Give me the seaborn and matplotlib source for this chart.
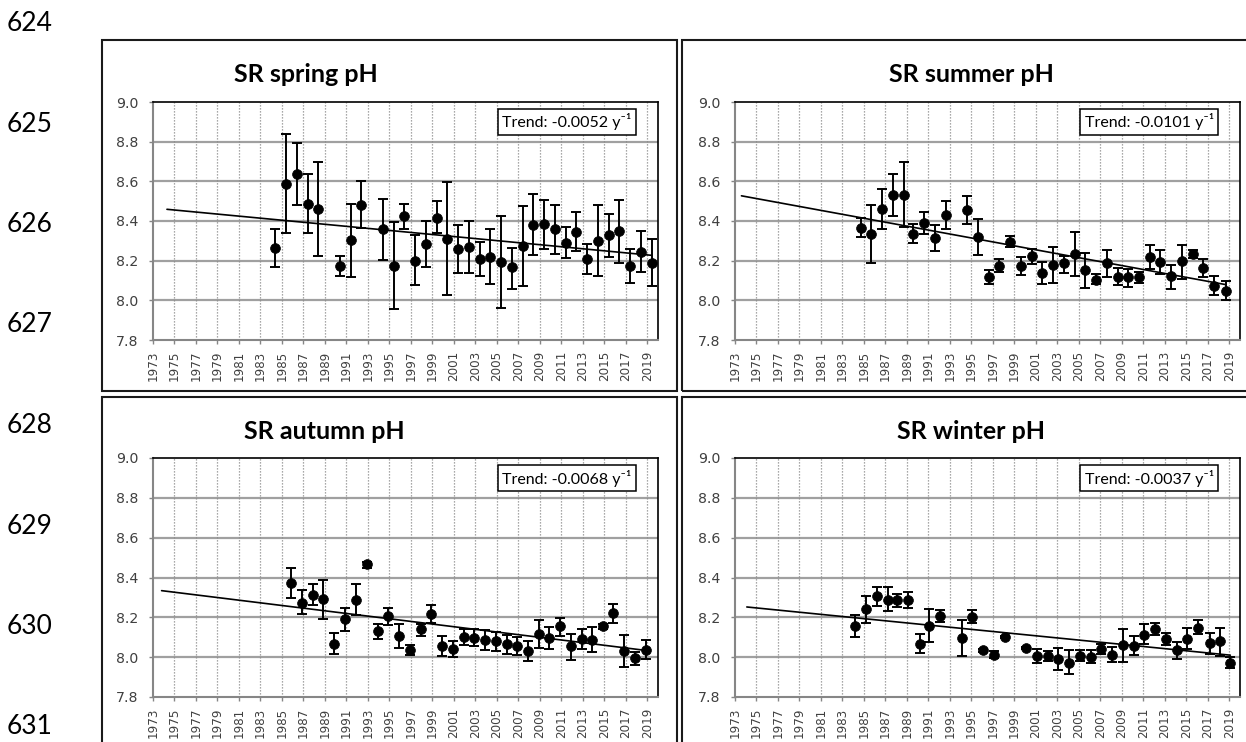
import numpy as np
import matplotlib
matplotlib.use("Agg")
import matplotlib.pyplot as plt
from matplotlib.patches import Rectangle
import seaborn as sns

# ---------------- data ----------------
years_spring = [1984.4, 1985.4, 1986.4, 1987.4, 1988.4, 1990.4, 1991.4, 1992.4, 1994.4, 1995.4,
                1996.4, 1997.4, 1998.4, 1999.4, 2000.4, 2001.4, 2002.4, 2003.4, 2004.4, 2005.4,
                2006.4, 2007.4, 2008.4, 2009.4, 2010.4, 2011.4, 2012.4, 2013.4, 2014.4, 2015.4,
                2016.4, 2017.4, 2018.4, 2019.4]
ph_spring = [8.266, 8.588, 8.639, 8.487, 8.459, 8.173, 8.303, 8.482, 8.358, 8.173,
             8.425, 8.200, 8.286, 8.417, 8.311, 8.259, 8.269, 8.208, 8.218, 8.195,
             8.166, 8.272, 8.382, 8.387, 8.360, 8.289, 8.345, 8.210, 8.299, 8.331,
             8.350, 8.175, 8.245, 8.190]
hi_spring = [8.361, 8.840, 8.795, 8.639, 8.697, 8.222, 8.484, 8.603, 8.513, 8.393,
             8.487, 8.328, 8.400, 8.503, 8.598, 8.382, 8.400, 8.296, 8.360, 8.425,
             8.266, 8.474, 8.534, 8.504, 8.479, 8.368, 8.445, 8.284, 8.481, 8.437,
             8.504, 8.257, 8.351, 8.308]
lo_spring = [8.168, 8.340, 8.482, 8.341, 8.225, 8.124, 8.119, 8.366, 8.205, 7.958,
             8.360, 8.077, 8.168, 8.341, 8.025, 8.138, 8.136, 8.124, 8.082, 7.963,
             8.059, 8.074, 8.230, 8.261, 8.235, 8.212, 8.249, 8.131, 8.123, 8.218,
             8.188, 8.086, 8.145, 8.071]
trend_x_spring = [1974.3, 2019.4]
trend_y_spring = [8.459, 8.227]

years_summer = [1984.7, 1985.7, 1986.7, 1987.7, 1988.7, 1989.6, 1990.6, 1991.6, 1992.6, 1994.6,
                1995.6, 1996.6, 1997.6, 1998.6, 1999.6, 2000.6, 2001.6, 2002.6, 2003.6, 2004.6,
                2005.6, 2006.6, 2007.6, 2008.6, 2009.6, 2010.6, 2011.6, 2012.6, 2013.6, 2014.6,
                2015.6, 2016.6, 2017.6, 2018.7]
ph_summer = [8.363, 8.336, 8.459, 8.529, 8.529, 8.333, 8.389, 8.313, 8.431, 8.456,
             8.321, 8.120, 8.172, 8.292, 8.172, 8.223, 8.139, 8.177, 8.186, 8.233,
             8.155, 8.105, 8.186, 8.120, 8.120, 8.120, 8.220, 8.194, 8.122, 8.199,
             8.233, 8.162, 8.073, 8.047]
hi_summer = [8.414, 8.483, 8.561, 8.635, 8.698, 8.383, 8.443, 8.378, 8.502, 8.527,
             8.409, 8.155, 8.209, 8.323, 8.216, 8.257, 8.191, 8.267, 8.225, 8.346,
             8.240, 8.132, 8.255, 8.164, 8.160, 8.145, 8.279, 8.252, 8.177, 8.279,
             8.255, 8.208, 8.125, 8.096]
lo_summer = [8.321, 8.189, 8.358, 8.427, 8.368, 8.287, 8.334, 8.248, 8.360, 8.383,
             8.228, 8.083, 8.142, 8.267, 8.127, 8.182, 8.083, 8.086, 8.140, 8.122,
             8.062, 8.084, 8.117, 8.079, 8.068, 8.086, 8.157, 8.135, 8.059, 8.110,
             8.215, 8.118, 8.025, 8.003]
trend_x_summer = [1973.6, 2018.7]
trend_y_summer = [8.527, 8.079]

years_autumn = [1985.85, 1986.85, 1987.85, 1988.85, 1989.85, 1990.9, 1991.9, 1992.9, 1993.9, 1994.9,
                1995.9, 1996.9, 1997.9, 1998.9, 1999.9, 2000.9, 2001.9, 2002.9, 2003.9, 2004.9,
                2005.9, 2006.9, 2007.9, 2008.9, 2009.9, 2010.9, 2011.9, 2012.9, 2013.9, 2014.9,
                2015.85, 2016.85, 2017.85, 2018.85]
ph_autumn = [8.370, 8.274, 8.314, 8.291, 8.067, 8.192, 8.286, 8.466, 8.131, 8.205,
             8.104, 8.034, 8.139, 8.215, 8.057, 8.042, 8.101, 8.096, 8.087, 8.079,
             8.064, 8.055, 8.029, 8.118, 8.096, 8.155, 8.054, 8.091, 8.087, 8.155,
             8.222, 8.029, 7.997, 8.037]
hi_autumn = [8.447, 8.336, 8.365, 8.387, 8.121, 8.247, 8.365, 8.479, 8.168, 8.247,
             8.168, 8.059, 8.168, 8.261, 8.104, 8.081, 8.139, 8.143, 8.134, 8.128,
             8.109, 8.101, 8.081, 8.188, 8.151, 8.198, 8.118, 8.141, 8.151, 8.165,
             8.269, 8.109, 8.025, 8.087]
lo_autumn = [8.296, 8.215, 8.264, 8.193, 8.018, 8.133, 8.210, 8.450, 8.092, 8.160,
             8.044, 8.012, 8.106, 8.171, 8.008, 8.003, 8.062, 8.057, 8.037, 8.029,
             8.017, 8.012, 7.983, 8.045, 8.039, 8.104, 7.987, 8.040, 8.025, 8.143,
             8.173, 7.953, 7.960, 7.990]
trend_x_autumn = [1973.8, 2018.85]
trend_y_autumn = [8.334, 8.034]

years_winter = [1984.2, 1985.2, 1986.2, 1987.2, 1988.1, 1989.1, 1990.2, 1991.1, 1992.1, 1994.1,
                1995.1, 1996.1, 1997.1, 1998.1, 2000.1, 2001.1, 2002.1, 2003.1, 2004.1, 2005.1,
                2006.1, 2007.1, 2008.1, 2009.1, 2010.1, 2011.1, 2012.1, 2013.1, 2014.1, 2015.1,
                2016.1, 2017.2, 2018.1, 2019.1]
ph_winter = [8.155, 8.240, 8.308, 8.289, 8.286, 8.286, 8.064, 8.156, 8.207, 8.096,
             8.202, 8.034, 8.013, 8.101, 8.047, 8.005, 8.005, 7.990, 7.970, 8.008,
             8.003, 8.042, 8.013, 8.059, 8.055, 8.113, 8.139, 8.092, 8.034, 8.092,
             8.146, 8.070, 8.081, 7.971]
hi_winter = [8.210, 8.308, 8.353, 8.350, 8.319, 8.329, 8.114, 8.242, 8.239, 8.185,
             8.239, 8.040, 8.029, 8.108, 8.053, 8.042, 8.030, 8.045, 8.034, 8.037,
             8.034, 8.064, 8.050, 8.143, 8.106, 8.165, 8.171, 8.123, 8.076, 8.146,
             8.185, 8.123, 8.146, 8.000]
lo_winter = [8.101, 8.171, 8.255, 8.230, 8.252, 8.247, 8.020, 8.076, 8.176, 8.008,
             8.171, 8.028, 7.997, 8.094, 8.041, 7.971, 7.980, 7.938, 7.916, 7.980,
             7.973, 8.017, 7.978, 7.978, 8.010, 8.064, 8.109, 8.062, 7.993, 8.042,
             8.114, 8.017, 8.005, 7.945]
trend_x_winter = [1974.1, 2019.1]
trend_y_winter = [8.252, 8.010]

titles = ["SR spring pH", "SR summer pH", "SR autumn pH", "SR winter pH"]
trend_labels = ["Trend: -0.0052 y\u207b\u00b9", "Trend: -0.0101 y\u207b\u00b9",
                "Trend: -0.0068 y\u207b\u00b9", "Trend: -0.0037 y\u207b\u00b9"]
year_ticks = list(range(1973, 2020, 2))
ph_ticks = [7.8, 8.0, 8.2, 8.4, 8.6, 8.8, 9.0]
line_numbers = ["624", "625", "626", "627", "628", "629", "630", "631"]

# ---------------- figure ----------------
sns.set_theme(style="white")
plt.rcParams["font.family"] = ["DejaVu Sans"]

W, H = 1246, 742
fig = plt.figure(figsize=(W / 100, H / 100), dpi=100)
fig.patch.set_facecolor("white")


def fx(px):
    return px / W


def fy(py):
    return 1 - py / H


# panel frames (pixel boxes: left, top, right, bottom)
frames = [(102, 40, 677, 391), (682, 40, 1252, 391), (102, 397, 677, 750), (682, 397, 1252, 750)]
for (l, t, r, b) in frames:
    fig.patches.append(Rectangle((fx(l), fy(b)), fx(r - l), (b - t) / H, transform=fig.transFigure,
                                 fill=False, edgecolor="#1a1a1a", linewidth=1.5, zorder=0))

# axes rectangles (pixel): left, top, right, bottom
axes_px = [(153, 102, 658, 340), (735, 102, 1240, 340), (153, 458, 658, 697), (735, 458, 1240, 697)]
title_pos = [(306, 82), (971, 82), (324, 439), (971, 439)]

series = [
    (years_spring, ph_spring, hi_spring, lo_spring, trend_x_spring, trend_y_spring),
    (years_summer, ph_summer, hi_summer, lo_summer, trend_x_summer, trend_y_summer),
    (years_autumn, ph_autumn, hi_autumn, lo_autumn, trend_x_autumn, trend_y_autumn),
    (years_winter, ph_winter, hi_winter, lo_winter, trend_x_winter, trend_y_winter),
]

for i, (yrs, ph, hi, lo, tx, ty) in enumerate(series):
    l, t, r, b = axes_px[i]
    ax = fig.add_axes([fx(l), fy(b), fx(r - l), (b - t) / H])
    ax.set_facecolor("white")
    yrs = np.array(yrs)
    ph = np.array(ph)
    hi = np.array(hi)
    lo = np.array(lo)

    ax.set_xlim(1973, 2020)
    ax.set_ylim(7.8, 9.0)

    # gridlines
    for v in ph_ticks[1:-1]:
        ax.axhline(v, color="#a0a0a0", lw=1.6, zorder=1)
    for yv in year_ticks[1:]:
        ax.axvline(yv, color="#8c8c8c", lw=0.9, ls=(0, (1, 1.4)), zorder=1)

    # error bars
    ax.errorbar(yrs, ph, yerr=[ph - lo, hi - ph], fmt="none", ecolor="black",
                elinewidth=1.4, capsize=3.4, capthick=1.4, zorder=3)
    # trend line
    sns.lineplot(x=tx, y=ty, ax=ax, color="black", lw=1.2, zorder=2)
    # points
    sns.scatterplot(x=yrs, y=ph, ax=ax, color="black", s=50, edgecolor="black",
                    linewidth=0.5, zorder=4, legend=False)

    ax.set_xticks(year_ticks)
    ax.set_xticklabels([str(y) for y in year_ticks], rotation=90, fontsize=8.6, color="#404040")
    ax.set_yticks(ph_ticks)
    ax.set_yticklabels([f"{v:.1f}" for v in ph_ticks], fontsize=10.2, color="#404040")
    ax.tick_params(axis="x", direction="out", length=3, width=1, color="#868686", pad=4.5, bottom=True)
    ax.tick_params(axis="y", direction="out", length=3, width=1, color="#868686", pad=7.5, left=True)
    ax.set_xlabel("")
    ax.set_ylabel("")

    for side in ["top", "right"]:
        ax.spines[side].set_visible(True)
        ax.spines[side].set_color("black")
        ax.spines[side].set_linewidth(1.2)
    for side in ["left", "bottom"]:
        ax.spines[side].set_visible(True)
        ax.spines[side].set_color("#868686")
        ax.spines[side].set_linewidth(1.5)

    ax.text(0.948, 0.916, trend_labels[i], transform=ax.transAxes, ha="right", va="center",
            fontsize=11.5, family=["Lato", "DejaVu Sans"], color="black", zorder=6,
            bbox=dict(boxstyle="square,pad=0.26", facecolor="white", edgecolor="black", linewidth=1.1))

    tx_px, ty_px = title_pos[i]
    fig.text(fx(tx_px), fy(ty_px), titles[i], ha="center", va="baseline", fontsize=18,
             fontweight="bold", family=["Lato", "DejaVu Sans"], color="black")

# document line numbers
for k, lab in enumerate(line_numbers):
    fig.text(fx(7), fy(23.5 + 100.5 * k), lab, ha="left", va="center", fontsize=19,
             family=["Lato", "DejaVu Sans"], color="black")

fig.savefig("out.png", dpi=100, facecolor="white")
